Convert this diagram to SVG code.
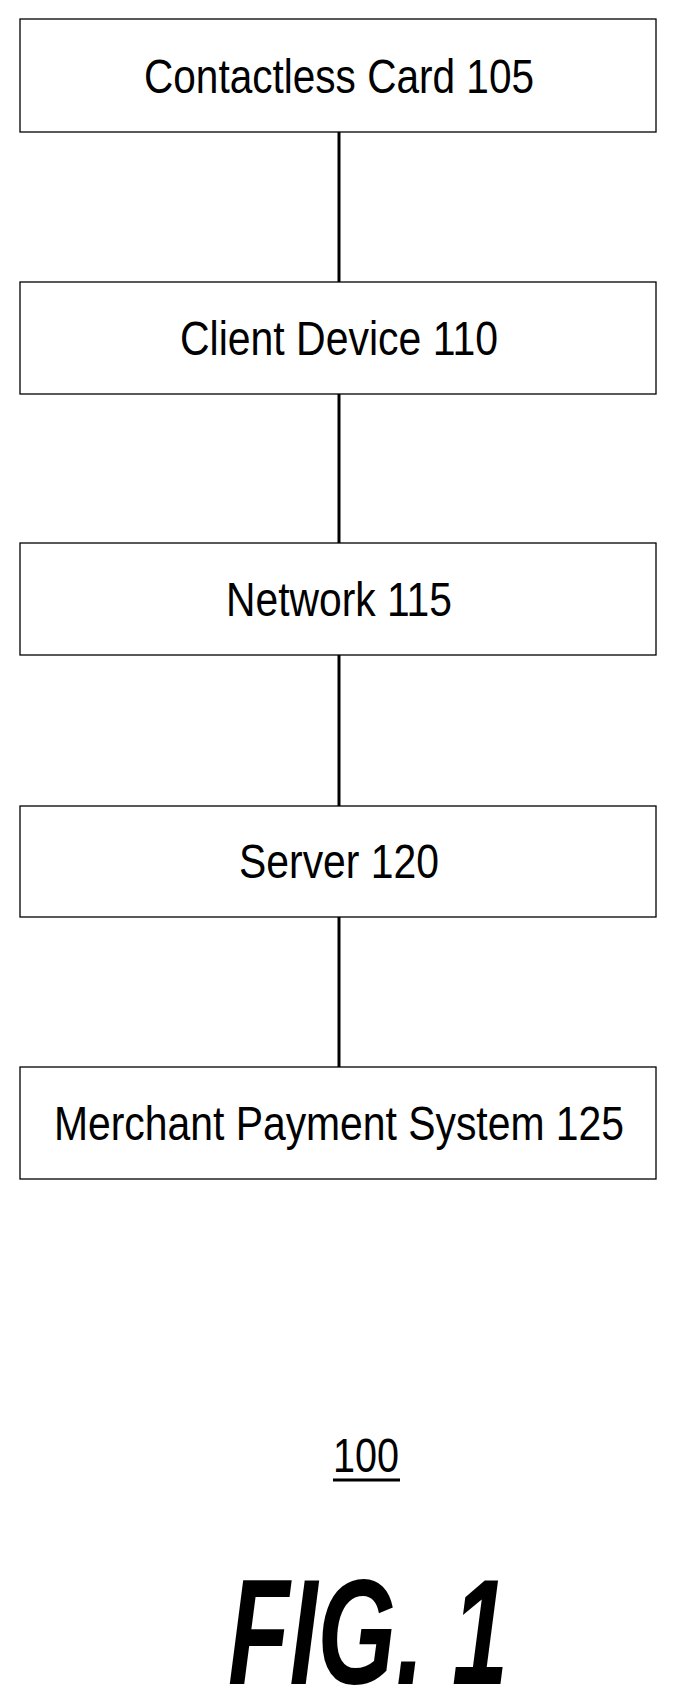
<svg xmlns="http://www.w3.org/2000/svg" width="678" height="1692" viewBox="0 0 678 1692">
<style>
.b{fill:#fff;stroke:#000;stroke-width:1.3}
.t{font-family:"Liberation Sans",Arial,sans-serif;font-size:48px;text-anchor:middle}
.c{stroke:#000;stroke-width:3}
</style>
<rect width="678" height="1692" fill="#fff"/>
<g id="connectors">
<line class="c" x1="339" y1="132" x2="339" y2="282"/>
<line class="c" x1="339" y1="394" x2="339" y2="543"/>
<line class="c" x1="339" y1="655" x2="339" y2="806"/>
<line class="c" x1="339" y1="917" x2="339" y2="1067"/>
</g>
<g id="n105"><rect class="b" x="20" y="19" width="636" height="113"/><text class="t" x="339" y="93" textLength="390" lengthAdjust="spacingAndGlyphs">Contactless Card 105</text></g>
<g id="n110"><rect class="b" x="20" y="282" width="636" height="112"/><text class="t" x="339" y="355" textLength="318" lengthAdjust="spacingAndGlyphs">Client Device 110</text></g>
<g id="n115"><rect class="b" x="20" y="543" width="636" height="112"/><text class="t" x="339" y="616" textLength="226" lengthAdjust="spacingAndGlyphs">Network 115</text></g>
<g id="n120"><rect class="b" x="20" y="806" width="636" height="111"/><text class="t" x="339" y="878" textLength="200" lengthAdjust="spacingAndGlyphs">Server 120</text></g>
<g id="n125"><rect class="b" x="20" y="1067" width="636" height="112"/><text class="t" x="339" y="1140" textLength="570" lengthAdjust="spacingAndGlyphs">Merchant Payment System 125</text></g>
<text class="t" x="366" y="1472" textLength="66" lengthAdjust="spacingAndGlyphs">100</text>
<line x1="333" y1="1480" x2="400" y2="1480" stroke="#000" stroke-width="3"/>
<text x="368" y="1684" font-family="Liberation Sans,Arial,sans-serif" font-size="150" font-weight="bold" font-style="italic" text-anchor="middle" textLength="280" lengthAdjust="spacingAndGlyphs">FIG. 1</text>
</svg>
